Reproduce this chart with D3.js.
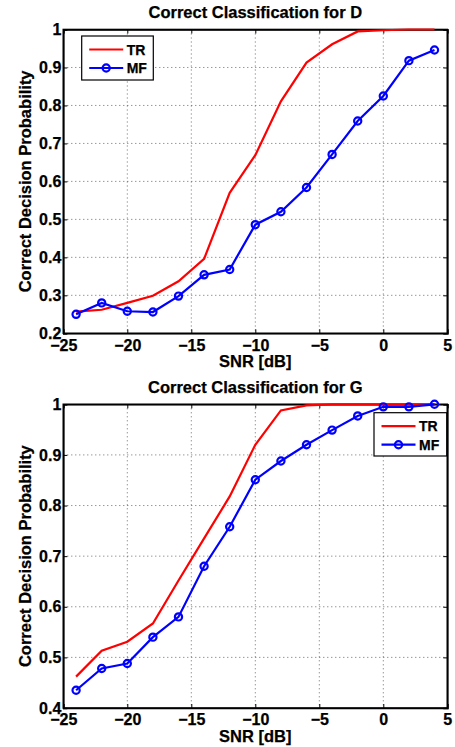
<!DOCTYPE html>
<html>

<head>
    <meta charset="utf-8">
    <script src="https://d3js.org/d3.v7.min.js"></script>
    <style>
        body { margin: 0; background: #fff; }
        text { font-family: "Liberation Sans", Arial, sans-serif; font-weight: bold; stroke: #000; stroke-width: 0.25px; }
    </style>
</head>

<body>
    <script>
        // SNR points shared by both plots
        let snr = [-24, -22, -20, -18, -16, -14, -12, -10, -8, -6, -4, -2, 0, 2, 4];

        // Plot D
        let trD = [0.257, 0.262, 0.280, 0.299, 0.337, 0.396, 0.570, 0.669, 0.811, 0.913, 0.961, 0.995, 0.998, 1.0, 1.0];
        let mfD = [0.250, 0.280, 0.258, 0.256, 0.298, 0.354, 0.368, 0.486, 0.520, 0.584, 0.671, 0.759, 0.825, 0.918, 0.946];

        // Plot G
        let trG = [0.462, 0.513, 0.531, 0.567, 0.652, 0.735, 0.818, 0.920, 0.988, 0.998, 1.0, 1.0, 1.0, 1.0, 1.0];
        let mfG = [0.435, 0.478, 0.488, 0.540, 0.580, 0.680, 0.758, 0.851, 0.888, 0.920, 0.949, 0.977, 0.995, 0.995, 1.0];

        let xTicks = [-25, -20, -15, -10, -5, 0, 5];
        let yTicksD = [0.2, 0.3, 0.4, 0.5, 0.6, 0.7, 0.8, 0.9, 1];
        let yTicksG = [0.4, 0.5, 0.6, 0.7, 0.8, 0.9, 1];

        let W = 455, H = 747;
        let svg = d3.select("body").append("svg")
            .attr("width", W)
            .attr("height", H);

        function fmt(v) {
            return String(v).replace("-", "\u2212");
        }

        function drawPlot(opt) {
            let left = 63.3, right = 447.3;
            let x_scale = d3.scaleLinear().domain([-25, 5]).range([left, right]);
            let y_scale = d3.scaleLinear().domain(opt.ydom).range([opt.bottom, opt.top]);

            let g = svg.append("g");

            // dotted grid
            g.selectAll(".gx").data(xTicks.slice(1, -1)).join("line")
                .attr("x1", d => x_scale(d)).attr("x2", d => x_scale(d))
                .attr("y1", opt.top).attr("y2", opt.bottom)
                .attr("stroke", "#444").attr("stroke-width", 0.8)
                .attr("stroke-dasharray", "1,3");
            g.selectAll(".gy").data(opt.yTicks.slice(1, -1)).join("line")
                .attr("y1", d => y_scale(d)).attr("y2", d => y_scale(d))
                .attr("x1", left).attr("x2", right)
                .attr("stroke", "#444").attr("stroke-width", 0.8)
                .attr("stroke-dasharray", "1,3");

            // axes, ticks inward like matlab
            let xAxis = d3.axisBottom(x_scale).tickValues(xTicks).tickSize(-4).tickPadding(6).tickFormat(fmt);
            let yAxis = d3.axisLeft(y_scale).tickValues(opt.yTicks).tickSize(-4).tickPadding(2).tickFormat(d => d);
            let ax = g.append("g").attr("transform", "translate(0," + opt.bottom + ")").call(xAxis);
            let ay = g.append("g").attr("transform", "translate(" + left + ",0)").call(yAxis);
            g.append("g").attr("transform", "translate(0," + opt.top + ")")
                .call(d3.axisTop(x_scale).tickValues(xTicks).tickSize(-4).tickFormat(""));
            g.append("g").attr("transform", "translate(" + right + ",0)")
                .call(d3.axisRight(y_scale).tickValues(opt.yTicks).tickSize(-4).tickFormat(""));
            g.selectAll(".domain").attr("stroke", "#000").attr("stroke-width", 1.6);
            g.selectAll(".tick line").attr("stroke", "#000");
            [ax, ay].forEach(a => a.selectAll("text")
                .style("font-size", "16px").style("font-family", "'Liberation Sans', Arial, sans-serif")
                .style("font-weight", "bold").attr("fill", "#000"));
            g.append("rect")
                .attr("x", left).attr("y", opt.top)
                .attr("width", right - left).attr("height", opt.bottom - opt.top)
                .attr("fill", "none").attr("stroke", "#000").attr("stroke-width", 1.6);

            let line = d3.line()
                .x((d, i) => x_scale(snr[i]))
                .y(d => y_scale(d));

            g.append("path").attr("d", line(opt.tr))
                .attr("fill", "none").attr("stroke", "#ff0000").attr("stroke-width", 2.2);
            g.append("path").attr("d", line(opt.mf))
                .attr("fill", "none").attr("stroke", "#0000ff").attr("stroke-width", 2.2);
            g.selectAll(".mk").data(opt.mf).join("circle")
                .attr("cx", (d, i) => x_scale(snr[i]))
                .attr("cy", d => y_scale(d))
                .attr("r", 3.6)
                .attr("fill", "none").attr("stroke", "#0000ff").attr("stroke-width", 2.2);

            // title and labels
            g.append("text")
                .attr("x", (left + right) / 2).attr("y", opt.titleY)
                .style("text-anchor", "middle").style("font-size", "16.5px")
                .text(opt.title);
            g.append("text")
                .attr("x", (left + right) / 2).attr("y", opt.bottom + 34)
                .style("text-anchor", "middle").style("font-size", "16.5px")
                .text("SNR [dB]");
            g.append("text")
                .attr("transform", "translate(31," + ((opt.top + opt.bottom) / 2) + ") rotate(-90)")
                .style("text-anchor", "middle").style("font-size", "16.5px")
                .text("Correct Decision Probability");

            // legend
            let L = opt.legend;
            g.append("rect")
                .attr("x", L.x).attr("y", L.y).attr("width", L.w).attr("height", L.h)
                .attr("fill", "#fff").attr("stroke", "#000").attr("stroke-width", 1.2);
            let items = [["TR", "#ff0000", false], ["MF", "#0000ff", true]];
            items.forEach((it, i) => {
                let yy = L.y + 13.5 + i * 18.5;
                g.append("line")
                    .attr("x1", L.x + 7.5).attr("x2", L.x + 41.5)
                    .attr("y1", yy).attr("y2", yy)
                    .attr("stroke", it[1]).attr("stroke-width", 2.2);
                if (it[2]) {
                    g.append("circle").attr("cx", L.x + 24.5).attr("cy", yy).attr("r", 3.6)
                        .attr("fill", "none").attr("stroke", it[1]).attr("stroke-width", 2.2);
                }
                g.append("text")
                    .attr("x", L.x + 45).attr("y", yy + 5)
                    .style("font-size", "14px")
                    .text(it[0]);
            });
        }

        drawPlot({
            title: "Correct Classification for D",
            titleY: 17.5, top: 29.5, bottom: 333.3,
            ydom: [0.2, 1], yTicks: yTicksD,
            tr: trD, mf: mfD,
            legend: { x: 81.7, y: 36, w: 71.6, h: 44 }
        });

        drawPlot({
            title: "Correct Classification for G",
            titleY: 393.3, top: 404.3, bottom: 708,
            ydom: [0.4, 1], yTicks: yTicksG,
            tr: trG, mf: mfG,
            legend: { x: 374, y: 412.7, w: 72.7, h: 43.3 }
        });
    </script>
</body>

</html>
